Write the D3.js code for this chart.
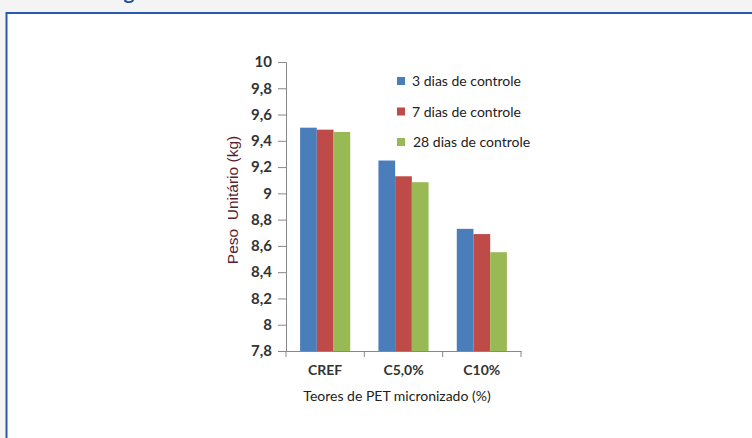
<!DOCTYPE html>
<html>
<head>
<meta charset="utf-8">
<script src="https://cdn.jsdelivr.net/npm/d3@7"></script>
<style>
  body { margin: 0; background: #f4f4f4; }
  svg { display: block; }
</style>
</head>
<body>
<div id="chart"></div>
<script>
// Data
var categories = ["CREF", "C5,0%", "C10%"];
var seriesNames = ["3 dias de controle", "7 dias de controle", "28 dias de controle"];
var dias3 = [9.50, 9.25, 8.73];
var dias7 = [9.485, 9.13, 8.69];
var dias28 = [9.467, 9.085, 8.552];
var yTicks = [7.8, 8, 8.2, 8.4, 8.6, 8.8, 9, 9.2, 9.4, 9.6, 9.8, 10];
var colors = ["#4a7ebb", "#be4b48", "#98b954"];

var series = [dias3, dias7, dias28];

var w = 752, h = 438;
var margin = { top: 62, left: 286, right: 231, bottom: 87 };
var innerW = w - margin.left - margin.right;
var innerH = h - margin.top - margin.bottom;

var svg = d3.select("#chart").append("svg")
    .attr("width", w)
    .attr("height", h);

// Page frame
svg.append("rect")
    .attr("x", 6.5).attr("y", 13)
    .attr("width", 760).attr("height", 440)
    .attr("fill", "#ffffff")
    .attr("stroke", "#2a5aae")
    .attr("stroke-width", 2);

// clipped heading glyph at top (cut off in the original too)
svg.append("text")
    .attr("x", 124).attr("y", -1)
    .style("font-family", "Open Sans, sans-serif")
    .style("font-weight", "bold")
    .style("font-size", "18px")
    .attr("fill", "#1f4e9c")
    .text("g");

var g = svg.append("g")
    .attr("transform", `translate(${margin.left}, ${margin.top})`);

// Scales
var x0 = d3.scaleBand().domain(categories).range([0, innerW]).paddingInner(0.36).paddingOuter(0.18);
var x1 = d3.scaleBand().domain(d3.range(series.length)).range([0, x0.bandwidth()]);
var y = d3.scaleLinear().domain([7.8, 10]).range([innerH, 0]);

// Bars
series.forEach(function(vals, si) {
    g.selectAll(".bar" + si)
        .data(vals)
        .enter()
        .append("rect")
        .attr("x", function(d, i) { return x0(categories[i]) + x1(si); })
        .attr("y", function(d) { return y(d); })
        .attr("width", x1.bandwidth())
        .attr("height", function(d) { return innerH - y(d); })
        .attr("fill", colors[si]);
});

var fmt = function(d) { return String(d).replace(".", ","); };

// Y axis
var yAxis = g.append("g")
    .call(d3.axisLeft(y).tickValues(yTicks).tickFormat(fmt).tickSizeOuter(0).tickSize(8).tickPadding(6));
yAxis.selectAll("text")
    .style("font-family", "Lato, sans-serif")
    .style("font-size", "15px")
    .style("font-weight", "bold")
    .attr("fill", "#333");

// X axis with tick marks on category boundaries
var xAxis = g.append("g")
    .attr("transform", `translate(0, ${innerH})`)
    .call(d3.axisBottom(x0).tickSize(0).tickPadding(14));
xAxis.selectAll("text")
    .style("font-family", "Lato, sans-serif")
    .style("font-size", "14px")
    .style("font-weight", "bold")
    .attr("fill", "#333");
var step = innerW / categories.length;
xAxis.selectAll(".boundary")
    .data(d3.range(categories.length + 1))
    .enter()
    .append("line")
    .attr("x1", function(d) { return d * step; })
    .attr("x2", function(d) { return d * step; })
    .attr("y1", 0).attr("y2", 6)
    .attr("stroke", "#888");

svg.selectAll(".domain, .tick line").attr("stroke", "#888");

// Axis titles
svg.append("text")
    .attr("transform", "translate(238, 200) rotate(-90)")
    .attr("text-anchor", "middle")
    .style("font-family", "Liberation Sans, Arial, sans-serif")
    .style("font-size", "15.5px")
    .attr("fill", "#5a1e2e")
    .text("Peso\u00a0\u00a0Unitário (kg)");

svg.append("text")
    .attr("x", 397)
    .attr("y", 401)
    .attr("text-anchor", "middle")
    .style("font-family", "Lato, sans-serif")
    .style("font-size", "14px")
    .attr("fill", "#222")
    .text("Teores de PET micronizado (%)");

// Legend
var legend = svg.append("g").attr("transform", "translate(397, 81)");
var items = legend.selectAll("g")
    .data(seriesNames)
    .enter()
    .append("g")
    .attr("transform", function(d, i) { return `translate(0, ${i * 30.5})`; });
items.append("rect")
    .attr("x", 0).attr("y", -4)
    .attr("width", 8).attr("height", 8)
    .attr("fill", function(d, i) { return colors[i]; });
items.append("text")
    .attr("x", function(d, i) { return i === 2 ? 16 : 15; })
    .attr("y", 5)
    .style("font-family", "Lato, sans-serif")
    .style("font-size", "14px")
    .attr("fill", "#222")
    .text(function(d) { return d; });
</script>
</body>
</html>
